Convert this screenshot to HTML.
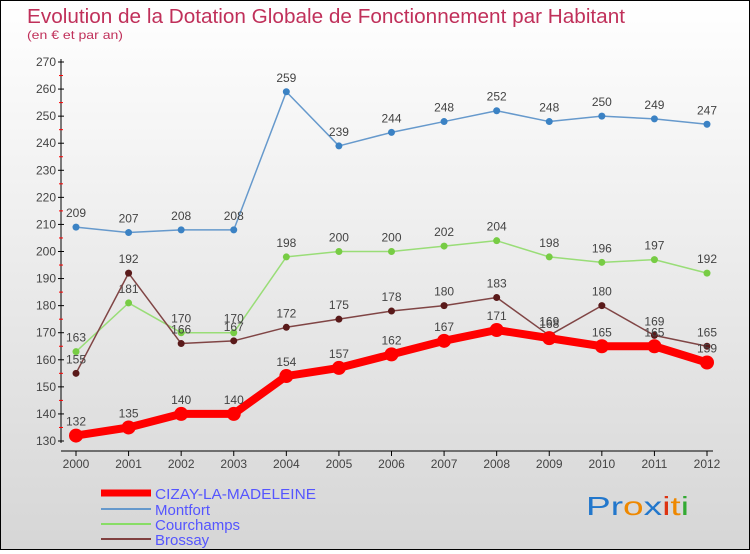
<!DOCTYPE html>
<html><head><meta charset="utf-8"><style>
body{margin:0;width:750px;height:550px;overflow:hidden;font-family:"Liberation Sans",sans-serif}
#wrap{position:relative;width:748px;height:548px;border:1px solid #000;background:linear-gradient(#fff,#d6d6d6)}
</style></head><body>
<div id="wrap">
<svg id="svg" width="748" height="548" xmlns="http://www.w3.org/2000/svg">
<text x="26" y="22" font-size="20" fill="#c0305a" textLength="598" lengthAdjust="spacingAndGlyphs">Evolution de la Dotation Globale de Fonctionnement par Habitant</text>
<text x="26" y="38" font-size="12" fill="#c0305a" textLength="96" lengthAdjust="spacingAndGlyphs">(en € et par an)</text>
<g id="axes"></g><g id="series"></g>
<g>
<line x1="100" y1="492" x2="150" y2="492" stroke="#f00" stroke-width="7"/>
<text x="154" y="498" font-size="15" fill="#5555ff" textLength="161" lengthAdjust="spacingAndGlyphs">CIZAY-LA-MADELEINE</text>
<line x1="100" y1="508" x2="150" y2="508" stroke="#6699cc" stroke-width="2"/>
<text x="154" y="514" font-size="15" fill="#5555ff">Montfort</text>
<line x1="100" y1="523" x2="150" y2="523" stroke="#88dd66" stroke-width="2"/>
<text x="154" y="529" font-size="15" fill="#5555ff">Courchamps</text>
<line x1="100" y1="538" x2="150" y2="538" stroke="#804040" stroke-width="2"/>
<text x="154" y="544" font-size="15" fill="#5555ff">Brossay</text>
</g>
<text x="585" y="514" font-size="26" textLength="103" lengthAdjust="spacingAndGlyphs"><tspan fill="#2277cc">Pr</tspan><tspan fill="#ee8800">o</tspan><tspan fill="#2277cc">x</tspan><tspan fill="#dd3311">i</tspan><tspan fill="#ee8800">t</tspan><tspan fill="#33aa33">i</tspan></text>
</svg></div>
<script>
const years=[2000,2001,2002,2003,2004,2005,2006,2007,2008,2009,2010,2011,2012];
const cizay=[132,135,140,140,154,157,162,167,171,168,165,165,159];
const montfort=[209,207,208,208,259,239,244,248,252,248,250,249,247];
const courchamps=[163,181,170,170,198,200,200,202,204,198,196,197,192];
const brossay=[155,192,166,167,172,175,178,180,183,169,180,169,165];
const yTicks=[130,140,150,160,170,180,190,200,210,220,230,240,250,260,270];
const NS="http://www.w3.org/2000/svg";
const X=i=>75+i*(706-75)/(years.length-1);
const Y=v=>440-(v-130)*(440-61)/140;
function mk(t,a,p){const e=document.createElementNS(NS,t);for(const k in a)e.setAttribute(k,a[k]);p.appendChild(e);return e;}
const ax=document.getElementById('axes');
const yl=mk('line',{x1:60,y1:58,x2:60,y2:442,stroke:'#000'},ax);


const xl=mk('line',{x1:60,y1:450,x2:712,y2:450,stroke:'#000'},ax);


yTicks.forEach(v=>{
 mk('line',{x1:57,y1:Y(v),x2:63,y2:Y(v),stroke:'#000'},ax);
 if(v<270)mk('line',{x1:58,y1:Y(v+5),x2:62,y2:Y(v+5),stroke:'#f00'},ax);
 const t=mk('text',{x:55,y:Y(v)+4,'font-size':12,fill:'#444','text-anchor':'end'},ax);t.textContent=v;
 
 
});
years.forEach((y,i)=>{
 mk('line',{x1:X(i),y1:450,x2:X(i),y2:455,stroke:'#000'},ax);
 const t=mk('text',{x:X(i),y:467,'font-size':12,fill:'#444','text-anchor':'middle'},ax);t.textContent=y;
 
 
});
const sg=document.getElementById('series');
function series(d,name,color,w,r,dot){
 const g=mk('g',{},sg);
 
 
 mk('polyline',{points:d.map((v,i)=>X(i)+','+Y(v)).join(' '),fill:'none',stroke:color,'stroke-width':w,'stroke-linejoin':'round'},g);
 d.forEach((v,i)=>{
  const c=mk('circle',{cx:X(i),cy:Y(v),r:r,fill:dot},g);
  
  
  const t=mk('text',{x:X(i),y:Y(v)-10,'font-size':12,fill:'#444','text-anchor':'middle'},g);t.textContent=v;
  
  
 });
}
series(montfort,'montfort','#6699cc',1.5,3.5,'#3b82c4');
series(courchamps,'courchamps','#99dd77',1.5,3.5,'#77cc44');
series(brossay,'brossay','#804545',1.5,3.5,'#5a1a1a');
series(cizay,'cizay','#f00',8,7,'#f00');
</script>
</body></html>
